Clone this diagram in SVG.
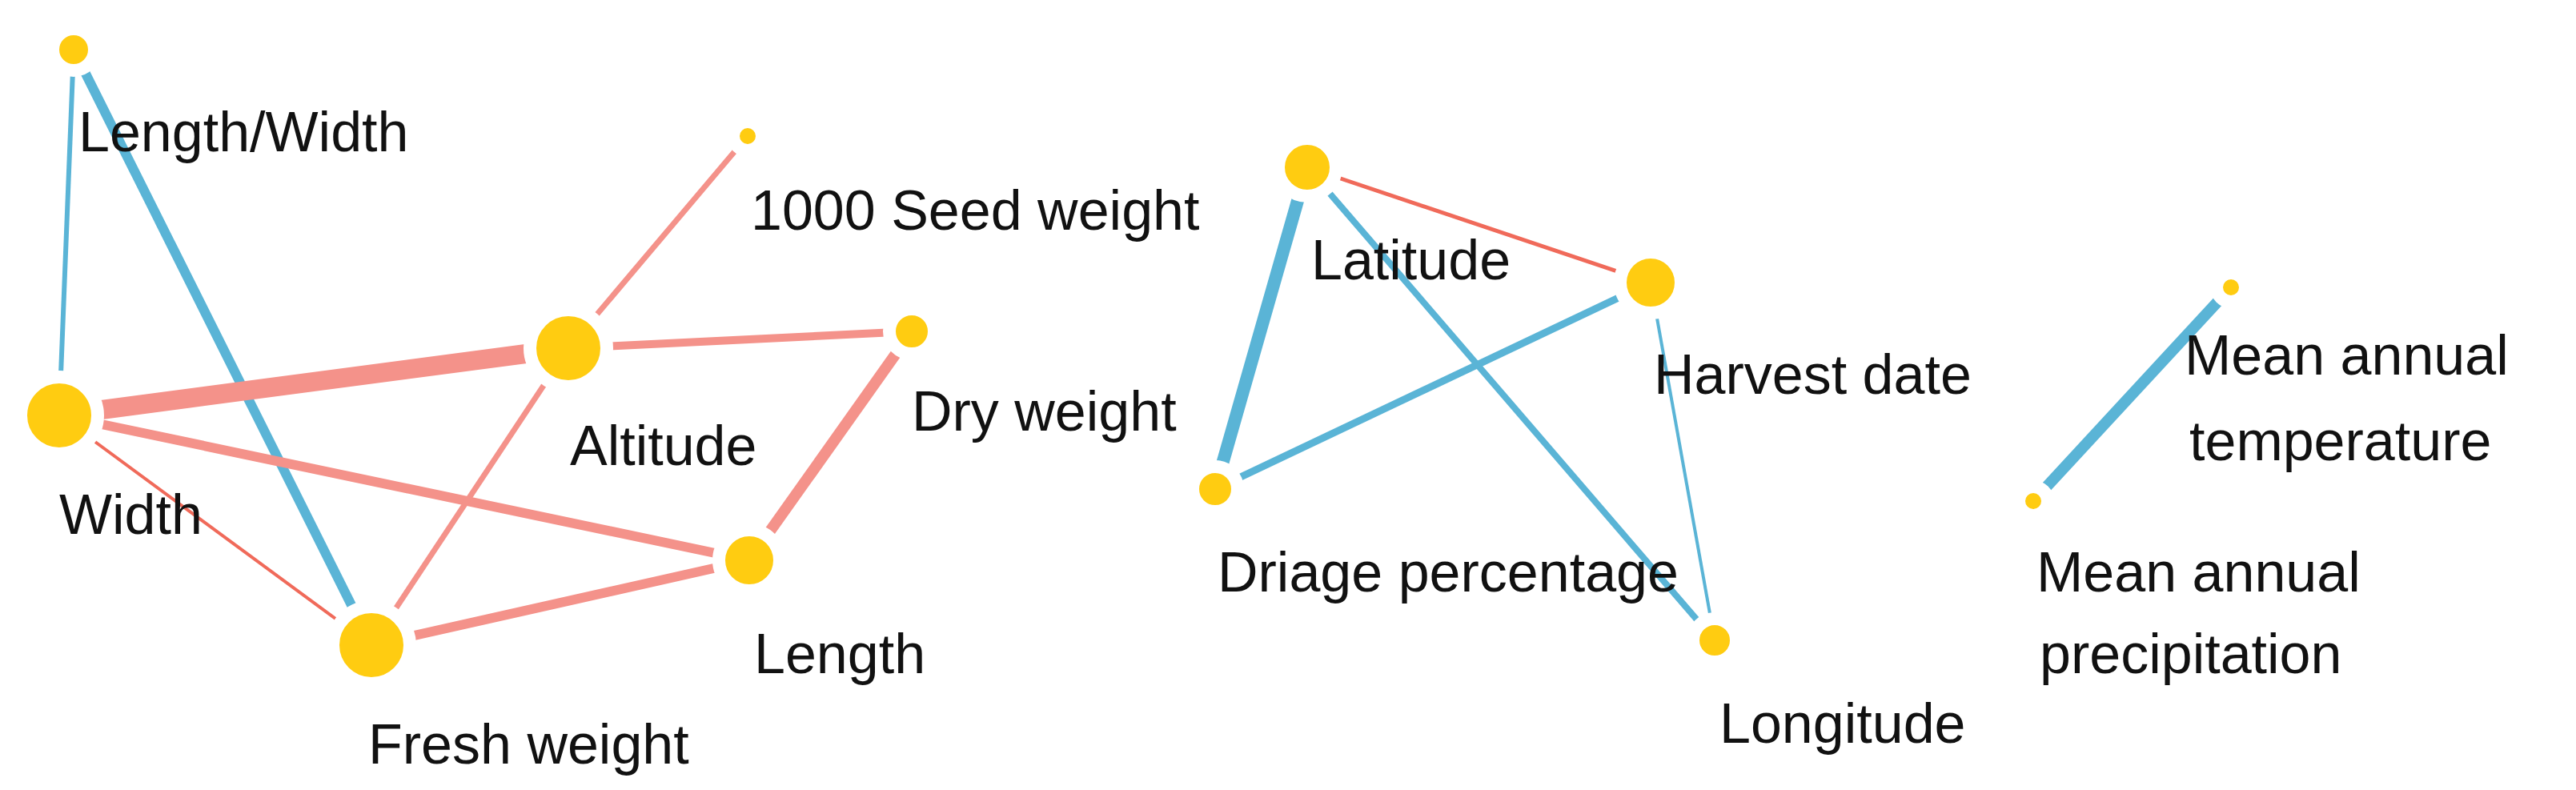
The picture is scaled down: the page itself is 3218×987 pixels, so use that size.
<svg xmlns="http://www.w3.org/2000/svg" width="3218" height="987" viewBox="0 0 3218 987">
<style>
.n{fill:#FFCC11;stroke:#fff;stroke-width:16}
.b{stroke:#5AB4D6;fill:none}
.s{stroke:#F4928A;fill:none}
.r{stroke:#F06A5A;fill:none}
text{font-family:"Liberation Sans",Arial,sans-serif;font-size:70px;fill:#111}
</style>
<rect width="3218" height="987" fill="#fff"/>
<g id="connectors">
<line class="b" x1="92" y1="62" x2="74" y2="519" stroke-width="6"/>
<line class="b" x1="92" y1="62" x2="464" y2="806" stroke-width="12"/>
<line class="s" x1="934" y1="170" x2="710" y2="435" stroke-width="7"/>
<line class="s" x1="74" y1="519" x2="710" y2="435" stroke-width="24"/>
<line class="s" x1="710" y1="435" x2="1139" y2="414" stroke-width="10"/>
<line class="s" x1="74" y1="519" x2="936" y2="700" stroke-width="12"/>
<line class="r" x1="74" y1="519" x2="464" y2="806" stroke-width="4"/>
<line class="s" x1="710" y1="435" x2="464" y2="806" stroke-width="7"/>
<line class="s" x1="1139" y1="414" x2="936" y2="700" stroke-width="14"/>
<line class="s" x1="464" y1="806" x2="936" y2="700" stroke-width="12"/>
<line class="r" x1="1633" y1="209" x2="2062" y2="353" stroke-width="5"/>
<line class="b" x1="1633" y1="209" x2="1518" y2="611" stroke-width="16"/>
<line class="b" x1="1633" y1="209" x2="2142" y2="800" stroke-width="8"/>
<line class="b" x1="2062" y1="353" x2="1518" y2="611" stroke-width="9"/>
<line class="b" x1="2062" y1="353" x2="2142" y2="800" stroke-width="4"/>
<line class="b" x1="2787" y1="359" x2="2540" y2="626" stroke-width="14"/>
</g>
<g id="n-lw"><circle class="n" cx="92" cy="62" r="26"/><text x="98" y="189">Length/Width</text></g>
<g id="n-seed"><circle class="n" cx="934" cy="170" r="18"/><text x="938" y="287">1000 Seed weight</text></g>
<g id="n-alt"><circle class="n" cx="710" cy="435" r="48"/><text x="712" y="581">Altitude</text></g>
<g id="n-dry"><circle class="n" cx="1139" cy="414" r="28"/><text x="1139" y="538">Dry weight</text></g>
<g id="n-width"><circle class="n" cx="74" cy="519" r="48"/><text x="74" y="667">Width</text></g>
<g id="n-length"><circle class="n" cx="936" cy="700" r="38"/><text x="942" y="841">Length</text></g>
<g id="n-fresh"><circle class="n" cx="464" cy="806" r="48"/><text x="460" y="954">Fresh weight</text></g>
<g id="n-lat"><circle class="n" cx="1633" cy="209" r="36"/><text x="1638" y="349">Latitude</text></g>
<g id="n-harv"><circle class="n" cx="2062" cy="353" r="38"/><text x="2066" y="492">Harvest date</text></g>
<g id="n-dri"><circle class="n" cx="1518" cy="611" r="28"/><text x="1521" y="739">Driage percentage</text></g>
<g id="n-lon"><circle class="n" cx="2142" cy="800" r="27"/><text x="2148" y="928">Longitude</text></g>
<g id="n-mat"><circle class="n" cx="2787" cy="359" r="18"/><text x="2729" y="468">Mean annual</text><text x="2735" y="575">temperature</text></g>
<g id="n-map"><circle class="n" cx="2540" cy="626" r="18"/><text x="2544" y="739">Mean annual</text><text x="2548" y="841">precipitation</text></g>
</svg>
